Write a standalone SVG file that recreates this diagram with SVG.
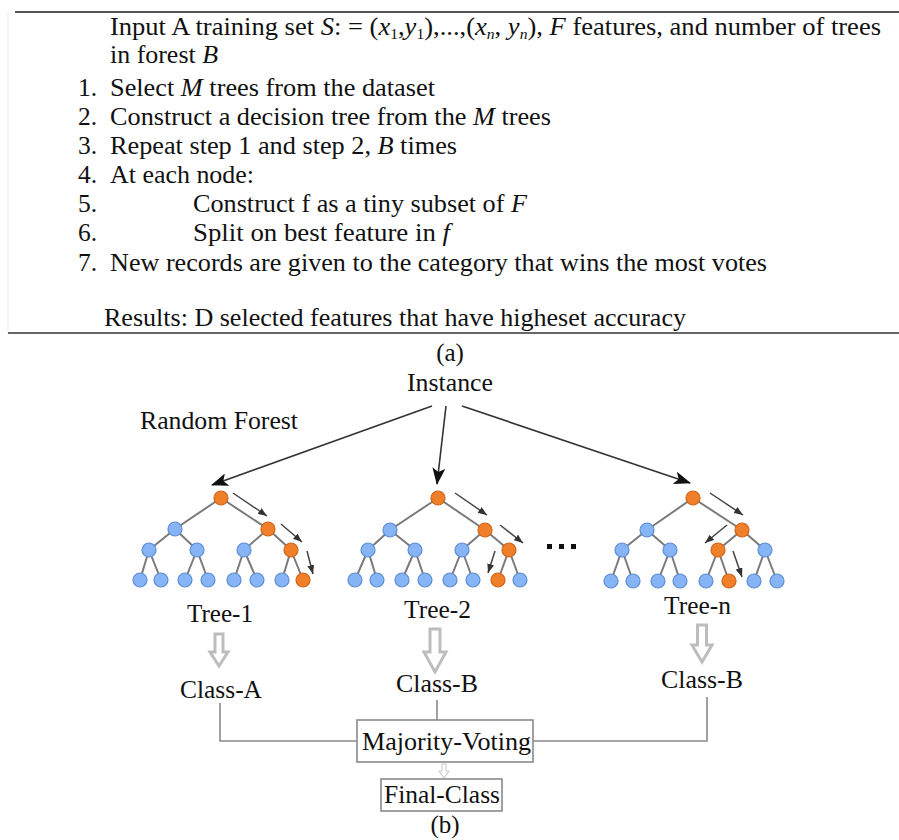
<svg xmlns="http://www.w3.org/2000/svg" width="899" height="840" viewBox="0 0 899 840">
<defs>
<style>
.t{font-family:"Liberation Serif","Times New Roman",serif;font-size:25.5px;fill:#111}
.d{font-family:"Liberation Serif","Times New Roman",serif;font-size:25px;fill:#111}
.i{font-style:italic}
.sub{font-size:15px}
.edge{stroke:#7a7a7a;stroke-width:2;fill:none}
.bn{fill:#86b4f5;stroke:#5c8ed6;stroke-width:1.2}
.on{fill:#f07f2a;stroke:#d0641a;stroke-width:1.2}
.pa{stroke:#444;stroke-width:1.5;fill:none;marker-end:url(#pah)}
.ma{stroke:#333;stroke-width:1.6;fill:none;marker-end:url(#mah)}
.ha{fill:#fff;stroke:#bdbdbd;stroke-width:3;stroke-linejoin:miter}
.ln{stroke:#8a8a8a;stroke-width:1.6;fill:none}
.box{fill:#fff;stroke:#8a8a8a;stroke-width:1.6}
</style>
<marker id="mah" markerUnits="userSpaceOnUse" markerWidth="17" markerHeight="13" refX="16" refY="6.5" orient="auto"><path d="M0,0 L17,6.5 L0,13 L4,6.5 z" fill="#111"/></marker>
<marker id="pah" markerUnits="userSpaceOnUse" markerWidth="9" markerHeight="7" refX="9" refY="3.5" orient="auto"><path d="M0,0 L9,3.5 L0,7 z" fill="#333"/></marker>
</defs>
<rect width="899" height="840" fill="#fff"/>
<g id="rules">
<line x1="8" y1="12" x2="8" y2="333" stroke="#f0f0f0" stroke-width="1.5"/>
<line x1="15" y1="12" x2="899" y2="12" stroke="#555" stroke-width="2"/>
<line x1="8" y1="333" x2="899" y2="333" stroke="#666" stroke-width="2"/>
</g>
<g id="algorithm">
<text class="t" x="110" y="35" textLength="771" lengthAdjust="spacingAndGlyphs">Input A training set <tspan class="i">S</tspan>: = (<tspan class="i">x</tspan><tspan class="sub" dy="4">1</tspan><tspan dy="-4">,</tspan><tspan class="i">y</tspan><tspan class="sub" dy="4">1</tspan><tspan dy="-4">),...,(</tspan><tspan class="i">x</tspan><tspan class="sub i" dy="4">n</tspan><tspan dy="-4">, </tspan><tspan class="i">y</tspan><tspan class="sub i" dy="4">n</tspan><tspan dy="-4">), </tspan><tspan class="i">F</tspan> features, and number of trees</text>
<text class="t" x="110" y="63" textLength="108" lengthAdjust="spacingAndGlyphs">in forest <tspan class="i">B</tspan></text>
<text class="t" x="78" y="96">1.</text>
<text class="t" x="110" y="96" textLength="325" lengthAdjust="spacingAndGlyphs">Select <tspan class="i">M</tspan> trees from the dataset</text>
<text class="t" x="78" y="125">2.</text>
<text class="t" x="110" y="125" textLength="441" lengthAdjust="spacingAndGlyphs">Construct a decision tree from the <tspan class="i">M</tspan> trees</text>
<text class="t" x="78" y="154">3.</text>
<text class="t" x="110" y="154" textLength="347" lengthAdjust="spacingAndGlyphs">Repeat step 1 and step 2, <tspan class="i">B</tspan> times</text>
<text class="t" x="78" y="183">4.</text>
<text class="t" x="110" y="183" textLength="144" lengthAdjust="spacingAndGlyphs">At each node:</text>
<text class="t" x="78" y="212">5.</text>
<text class="t" x="193" y="212" textLength="334" lengthAdjust="spacingAndGlyphs">Construct f as a tiny subset of <tspan class="i">F</tspan></text>
<text class="t" x="78" y="241">6.</text>
<text class="t" x="193" y="241" textLength="257" lengthAdjust="spacingAndGlyphs">Split on best feature in <tspan class="i">f</tspan></text>
<text class="t" x="78" y="271">7.</text>
<text class="t" x="110" y="271" textLength="657" lengthAdjust="spacingAndGlyphs">New records are given to the category that wins the most votes</text>
<text class="t" x="104" y="326" textLength="582" lengthAdjust="spacingAndGlyphs">Results: D selected features that have higheset accuracy</text>
</g>
<g id="labels-a">
<text class="d" x="450" y="361" text-anchor="middle">(a)</text>
</g>
<g id="instance"><text class="d" x="407" y="391" textLength="86" lengthAdjust="spacingAndGlyphs">Instance</text></g>
<g id="random-forest-label"><text class="d" x="140" y="429" textLength="158" lengthAdjust="spacingAndGlyphs">Random Forest</text></g>
<g id="connectors">
<line class="ma" x1="432" y1="406" x2="212" y2="485"/>
<line class="ma" x1="446" y1="406" x2="437" y2="484"/>
<line class="ma" x1="462" y1="406" x2="690" y2="483"/>
<path class="ln" d="M220,703 V741 H357"/>
<path class="ln" d="M437,700 V720"/>
<path class="ln" d="M707,697 V741 H533"/>
</g>
<g id="tree-1">
<path class="edge" d="M221,498 L175,529 M221,498 L268,529 M175,529 L149,550 M175,529 L197,550 M268,529 L244,550 M268,529 L291,550 M149,550 L140,580 M149,550 L161,580 M197,550 L185,580 M197,550 L208,580 M244,550 L234,580 M244,550 L257,580 M291,550 L282,580 M291,550 L303,580"/>
<circle class="on" cx="221" cy="498" r="7"/>
<circle class="bn" cx="175" cy="529" r="7"/><circle class="on" cx="268" cy="529" r="7"/>
<circle class="bn" cx="149" cy="550" r="7"/><circle class="bn" cx="197" cy="550" r="7"/><circle class="bn" cx="244" cy="550" r="7"/><circle class="on" cx="291" cy="550" r="7"/>
<circle class="bn" cx="140" cy="580" r="7"/><circle class="bn" cx="161" cy="580" r="7"/><circle class="bn" cx="185" cy="580" r="7"/><circle class="bn" cx="208" cy="580" r="7"/><circle class="bn" cx="234" cy="580" r="7"/><circle class="bn" cx="257" cy="580" r="7"/><circle class="bn" cx="282" cy="580" r="7"/><circle class="on" cx="303" cy="580" r="7"/>
<line class="pa" x1="233" y1="493" x2="267" y2="516"/>
<line class="pa" x1="281" y1="524" x2="302" y2="542"/>
<line class="pa" x1="307" y1="551" x2="313" y2="574"/>
<text class="d" x="187" y="622" textLength="66" lengthAdjust="spacingAndGlyphs">Tree-1</text>
</g>
<g id="tree-2">
<path class="edge" d="M438,498 L390,530 M438,498 L485,530 M390,530 L368,550 M390,530 L415,550 M485,530 L462,550 M485,530 L509,550 M368,550 L355,580 M368,550 L377,580 M415,550 L402,580 M415,550 L425,580 M462,550 L450,580 M462,550 L473,580 M509,550 L498,580 M509,550 L520,580"/>
<circle class="on" cx="438" cy="498" r="7"/>
<circle class="bn" cx="390" cy="530" r="7"/><circle class="on" cx="485" cy="530" r="7"/>
<circle class="bn" cx="368" cy="550" r="7"/><circle class="bn" cx="415" cy="550" r="7"/><circle class="bn" cx="462" cy="550" r="7"/><circle class="on" cx="509" cy="550" r="7"/>
<circle class="bn" cx="355" cy="580" r="7"/><circle class="bn" cx="377" cy="580" r="7"/><circle class="bn" cx="402" cy="580" r="7"/><circle class="bn" cx="425" cy="580" r="7"/><circle class="bn" cx="450" cy="580" r="7"/><circle class="bn" cx="473" cy="580" r="7"/><circle class="on" cx="498" cy="580" r="7"/><circle class="bn" cx="520" cy="580" r="7"/>
<line class="pa" x1="455" y1="493" x2="487" y2="515"/>
<line class="pa" x1="500" y1="525" x2="523" y2="543"/>
<line class="pa" x1="495" y1="551" x2="488" y2="573"/>
<text class="d" x="404" y="618" textLength="67" lengthAdjust="spacingAndGlyphs">Tree-2</text>
</g>
<g id="ellipsis">
<rect x="547" y="544" width="5" height="5" fill="#111"/><rect x="559" y="544" width="5" height="5" fill="#111"/><rect x="571" y="544" width="5" height="5" fill="#111"/>
</g>
<g id="tree-n">
<path class="edge" d="M693,498 L647,530 M693,498 L742,530 M647,530 L622,550 M647,530 L670,550 M742,530 L718,550 M742,530 L765,550 M622,550 L611,581 M622,550 L633,581 M670,550 L658,581 M670,550 L680,581 M718,550 L706,581 M718,550 L729,581 M765,550 L754,581 M765,550 L777,581"/>
<circle class="on" cx="693" cy="498" r="7"/>
<circle class="bn" cx="647" cy="530" r="7"/><circle class="on" cx="742" cy="530" r="7"/>
<circle class="bn" cx="622" cy="550" r="7"/><circle class="bn" cx="670" cy="550" r="7"/><circle class="on" cx="718" cy="550" r="7"/><circle class="bn" cx="765" cy="550" r="7"/>
<circle class="bn" cx="611" cy="581" r="7"/><circle class="bn" cx="633" cy="581" r="7"/><circle class="bn" cx="658" cy="581" r="7"/><circle class="bn" cx="680" cy="581" r="7"/><circle class="bn" cx="706" cy="581" r="7"/><circle class="on" cx="729" cy="581" r="7"/><circle class="bn" cx="754" cy="581" r="7"/><circle class="bn" cx="777" cy="581" r="7"/>
<line class="pa" x1="710" y1="493" x2="743" y2="515"/>
<line class="pa" x1="727" y1="525" x2="705" y2="543"/>
<line class="pa" x1="733" y1="551" x2="742" y2="577"/>
<text class="d" x="664" y="614" textLength="67" lengthAdjust="spacingAndGlyphs">Tree-n</text>
</g>
<g id="output-arrows">
<polygon class="ha" points="215,634 223,634 223,652 228,652 219,666 210,652 215,652"/>
<polygon class="ha" points="430,629 440,629 440,652 446,652 435,672 424,652 430,652"/>
<polygon class="ha" points="697.5,625 706.5,625 706.5,645 712,645 702,662 692,645 697.5,645"/>
</g>
<g id="class-a"><text class="d" x="180" y="698" textLength="82" lengthAdjust="spacingAndGlyphs">Class-A</text></g>
<g id="class-b-2"><text class="d" x="396" y="692" textLength="82" lengthAdjust="spacingAndGlyphs">Class-B</text></g>
<g id="class-b-n"><text class="d" x="661" y="688" textLength="82" lengthAdjust="spacingAndGlyphs">Class-B</text></g>
<g id="majority-voting">
<rect class="box" x="357" y="720" width="176" height="42"/>
<text class="d" x="362" y="750" textLength="169" lengthAdjust="spacingAndGlyphs">Majority-Voting</text>
</g>
<g id="small-arrow">
<polygon points="442,764 446,764 446,771 449,771 444,778 439,771 442,771" fill="#fff" stroke="#cfcfcf" stroke-width="1.2"/>
</g>
<g id="final-class">
<rect class="box" x="381" y="779" width="121" height="32"/>
<text class="d" x="384" y="803" textLength="116" lengthAdjust="spacingAndGlyphs">Final-Class</text>
</g>
<g id="label-b"><text class="d" x="445" y="833" text-anchor="middle">(b)</text></g>
</svg>
